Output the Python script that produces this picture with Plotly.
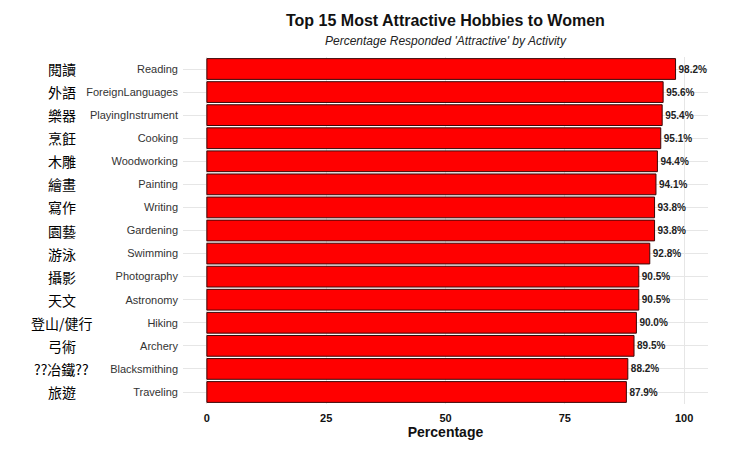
import plotly.graph_objects as go

hobbies_en = ["Reading", "ForeignLanguages", "PlayingInstrument", "Cooking", "Woodworking",
              "Painting", "Writing", "Gardening", "Swimming", "Photography",
              "Astronomy", "Hiking", "Archery", "Blacksmithing", "Traveling"]
hobbies_zh = ["閱讀", "外語", "樂器", "烹飪", "木雕", "繪畫", "寫作", "園藝", "游泳", "攝影",
              "天文", "登山/健行", "弓術", "??冶鐵??", "旅遊"]
percentages = [98.2, 95.6, 95.4, 95.1, 94.4, 94.1, 93.8, 93.8, 92.8, 90.5,
               90.5, 90.0, 89.5, 88.2, 87.9]
x_ticks = [0, 25, 50, 75, 100]

font_main = "Liberation Sans, Arial, sans-serif"

fig = go.Figure(go.Bar(
    x=percentages, y=hobbies_en, orientation="h",
    marker=dict(color="#ff0000", line=dict(color="#3a0808", width=1)),
    width=0.9,
    text=[f"{v:.1f}%" for v in percentages],
    textposition="outside",
    textfont=dict(family=font_main, size=10, color="#222222", weight="bold"),
    cliponaxis=False,
))

# chinese names as an outer label column
for en, zh in zip(hobbies_en, hobbies_zh):
    fig.add_annotation(x=-0.231, xref="paper", y=en, yref="y", text=zh, showarrow=False,
                       xanchor="center",
                       font=dict(family="Noto Sans CJK TC", size=14, color="#000000"))

# title + subtitle
fig.add_annotation(x=0.5, xref="paper", y=1.104, yref="paper", yanchor="middle",
                   text="<b>Top 15 Most Attractive Hobbies to Women</b>", showarrow=False,
                   font=dict(family=font_main, size=16, color="#111111"))
fig.add_annotation(x=0.5, xref="paper", y=1.046, yref="paper", yanchor="middle",
                   text="<i>Percentage Responded 'Attractive' by Activity</i>", showarrow=False,
                   font=dict(family=font_main, size=12, color="#222222"))

fig.update_layout(
    width=750, height=450,
    margin=dict(l=175, r=50, t=49, b=54),
    paper_bgcolor="white", plot_bgcolor="white",
    showlegend=False,
)
fig.update_xaxes(range=[-5, 105], tickvals=x_ticks, showgrid=True, gridcolor="#e6e6e6",
                 zeroline=False, showline=False, ticks="", ticklabelstandoff=6,
                 tickfont=dict(family=font_main, size=11, color="#111111", weight="bold"),
                 title=dict(text="Percentage", standoff=2,
                            font=dict(family=font_main, size=14, color="#111111", weight="bold")))
fig.update_yaxes(categoryorder="array", categoryarray=hobbies_en, autorange="reversed",
                 showgrid=True, gridcolor="#e6e6e6", showline=False, ticks="",
                 ticklabelstandoff=4,
                 tickfont=dict(family=font_main, size=11, color="#333333"))

fig.write_html("out.html")
